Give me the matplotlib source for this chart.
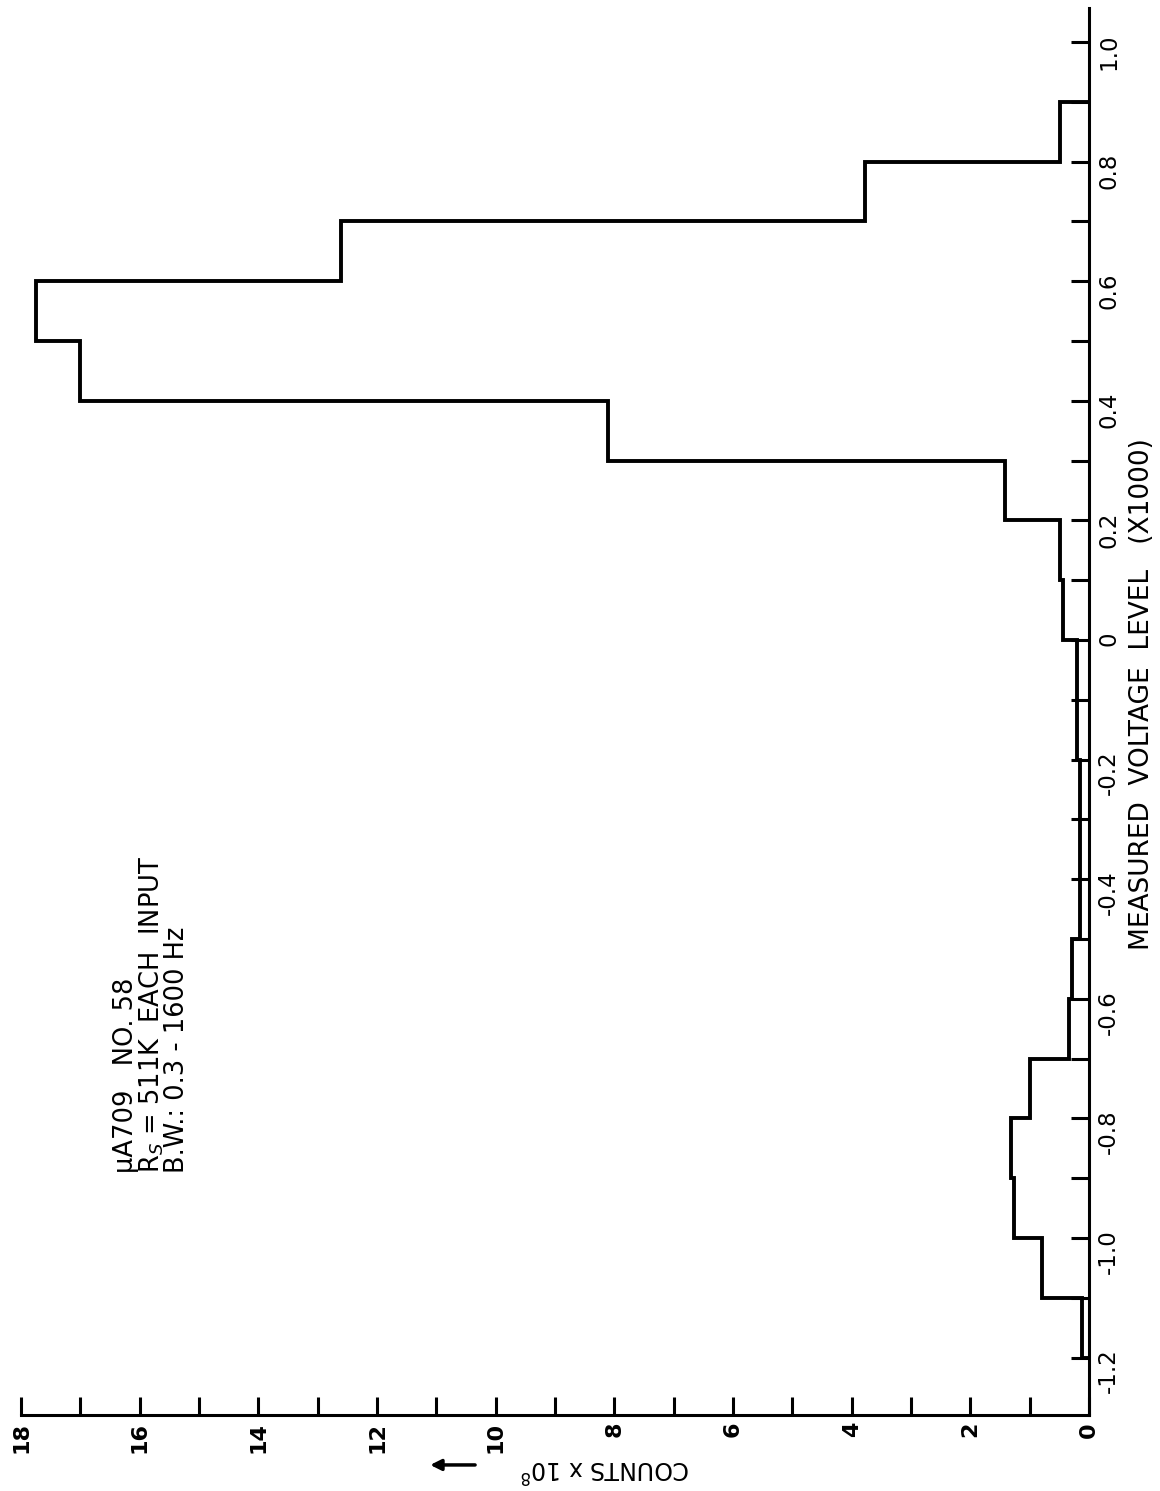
import numpy as np
import matplotlib
matplotlib.use("Agg")
from matplotlib import pyplot as plt
from matplotlib.ticker import FixedLocator, MultipleLocator

# histogram bins (measured voltage level, x1000) and counts (x10^8)
bin_edges = np.linspace(-1.2, 0.9, 22)
counts = [0.11, 0.80, 1.27, 1.32, 1.00, 0.34, 0.28, 0.16, 0.16, 0.16, 0.21,
          0.21, 0.43, 0.49, 1.41, 8.1, 17.0, 17.75, 12.6, 3.77, 0.49]

volt_ticks = [-1.2, -1.0, -0.8, -0.6, -0.4, -0.2, 0.0, 0.2, 0.4, 0.6, 0.8, 1.0]
volt_labels = ["-1.2", "-1.0", "-0.8", "-0.6", "-0.4", "-0.2", "0", "0.2", "0.4", "0.6", "0.8", "1.0"]
count_ticks = [0, 2, 4, 6, 8, 10, 12, 14, 16, 18]
count_labels = [str(c) for c in count_ticks]

note = "\u03bcA709   NO. 58\nR$_S$ = 511K  EACH  INPUT\nB.W.: 0.3 - 1600 Hz"

plt.rcParams['font.family'] = ['DejaVu Sans']

W, H = 1160, 1491
fig = plt.figure(figsize=(W / 100, H / 100), dpi=100)
ax = fig.add_axes([21 / W, 1 - 1415 / H, (1089 - 21) / W, (1415 - 8) / H])

ax.stairs(counts, bin_edges, orientation='horizontal', baseline=0,
          color='black', lw=2.8)

ax.set_xlim(18, 0)
ax.set_ylim(-1.296, 1.057)

for s in ['top', 'left']:
    ax.spines[s].set_visible(False)
for s in ['right', 'bottom']:
    ax.spines[s].set_linewidth(2.2)

ax.yaxis.tick_right()
ax.yaxis.set_major_locator(FixedLocator(volt_ticks))
ax.yaxis.set_ticklabels(volt_labels)
ax.yaxis.set_minor_locator(MultipleLocator(0.1))
ax.xaxis.set_major_locator(FixedLocator(count_ticks))
ax.xaxis.set_ticklabels(count_labels, fontweight='bold')
ax.xaxis.set_minor_locator(MultipleLocator(1))

ax.tick_params(axis='both', which='both', direction='in', length=13, width=2.2)
ax.tick_params(axis='y', which='major', labelsize=16.5, labelrotation=90, pad=6)
ax.tick_params(axis='x', which='major', labelsize=16, labelrotation=90, pad=5)

ax.text(1.0496, 0.5124, "MEASURED  VOLTAGE  LEVEL   (X1000)", rotation=90,
        transform=ax.transAxes, ha='center', va='center', fontsize=19)

ax.text(8.15, -0.0376, "COUNTS x 10$^8$", rotation=180,
        transform=ax.get_xaxis_transform(), ha='center', va='center', fontsize=17)
ax.annotate('', xy=(11.15, -0.0355), xytext=(10.3, -0.0355),
            xycoords=ax.get_xaxis_transform(), textcoords=ax.get_xaxis_transform(),
            arrowprops=dict(arrowstyle='-|>', lw=2.5, color='black', mutation_scale=16),
            annotation_clip=False)

ax.text(16.45, -0.891, note, rotation=90, ha='left', va='bottom',
        multialignment='left', fontsize=18.5, linespacing=0.92)

fig.savefig("out.png", dpi=100)
